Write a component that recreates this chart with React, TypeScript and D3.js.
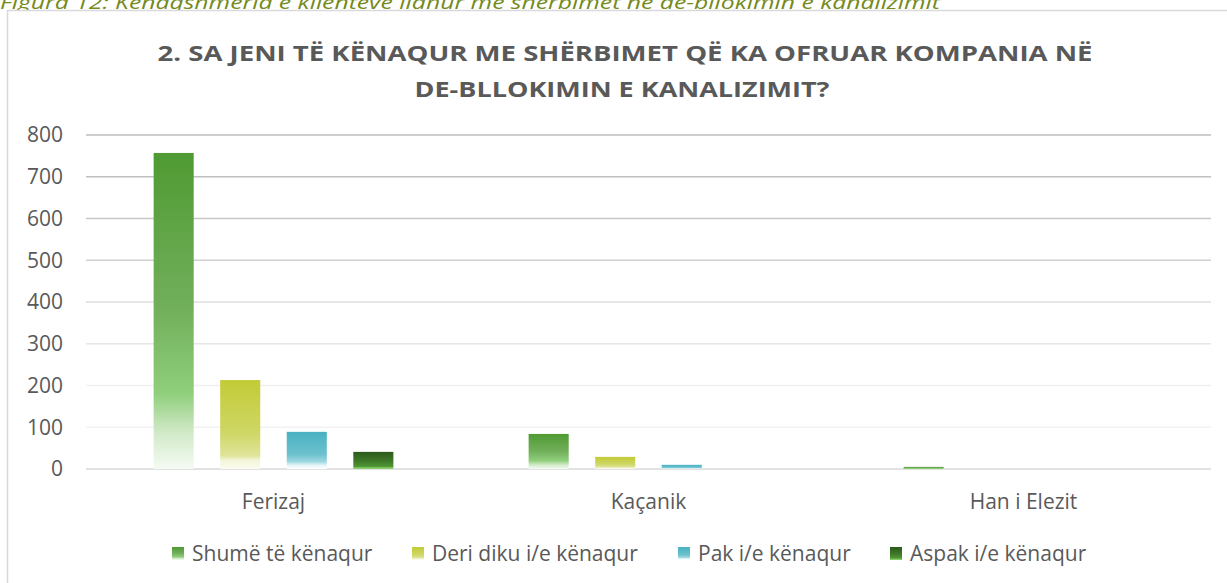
import { useEffect, useRef } from "react";
import * as d3 from "d3";

// categories (municipalities) and series (answers)
const cities = ["Ferizaj", "Kaçanik", "Han i Elezit"];
const answers = ["Shumë të kënaqur", "Deri diku i/e kënaqur", "Pak i/e kënaqur", "Aspak i/e kënaqur"];

// values per answer, in the order of cities
const shume = [757, 84, 5];
const deriDiku = [213, 29, 0];
const pak = [89, 10, 0];
const aspak = [41, 0, 0];

const yTicks = [0, 100, 200, 300, 400, 500, 600, 700, 800];

const title1 = "2. SA JENI TË KËNAQUR ME SHËRBIMET QË KA OFRUAR KOMPANIA NË";
const title2 = "DE-BLLOKIMIN E KANALIZIMIT?";
const caption = "Figura 12: Kënaqshmëria e klientëve lidhur me shërbimet në de-bllokimin e kanalizimit";

// gradient stops for each series (top -> bottom)
const gradients: [number, string][][] = [
  [[0, "#4f9a32"], [0.5, "#72b05c"], [0.76, "#8fce7b"], [0.88, "#cfe9c6"], [1, "#f6fbf4"]],
  [[0, "#c2cb36"], [0.6, "#cfd766"], [0.85, "#dfe49a"], [0.9, "#f3f5d8"], [1, "#fbfcf0"]],
  [[0, "#48b1c2"], [0.6, "#6cc1ce"], [0.8, "#9ed7e0"], [0.9, "#e6f5f7"], [1, "#ffffff"]],
  [[0, "#2c5a1c"], [0.55, "#3f7a2a"], [0.85, "#4f9633"], [0.92, "#7cc45e"], [1, "#8fd072"]],
];

const gridColors = ["#d9d9d9", "#f2f2f2", "#f0f0f0", "#e6e6e6", "#dedede", "#d2d2d2", "#c8c8c8", "#c0c0c0", "#bfbfbf"];

export default function App() {
  const svgRef = useRef<SVGSVGElement>(null);

  useEffect(() => {
    const width = 1227;
    const height = 583;
    const margin = { top: 135, right: 16, bottom: 114, left: 86 };
    const series = [shume, deriDiku, pak, aspak];
    const font = "'Open Sans', sans-serif";
    const textColor = "#595959";

    const svg = d3.select(svgRef.current).attr("width", width).attr("height", height);
    svg.selectAll("*").remove();

    const defs = svg.append("defs");
    gradients.forEach((stops, i) => {
      const g = defs
        .append("linearGradient")
        .attr("id", `grad${i}`)
        .attr("x1", 0)
        .attr("y1", 0)
        .attr("x2", 0)
        .attr("y2", 1);
      stops.forEach(([o, c]) => g.append("stop").attr("offset", o).attr("stop-color", c));
    });

    svg.append("rect").attr("width", width).attr("height", height).attr("fill", "#fff");

    // caption, partly cut at top like in the source
    svg
      .append("text")
      .attr("x", 0)
      .attr("y", 9)
      .attr("font-family", font)
      .attr("font-style", "italic")
      .attr("font-size", 19)
      .attr("fill", "#758a1a")
      .attr("textLength", 940)
      .attr("lengthAdjust", "spacingAndGlyphs")
      .text(caption);

    // chart frame
    svg
      .append("rect")
      .attr("x", 7.5)
      .attr("y", 10.5)
      .attr("width", width + 10)
      .attr("height", height + 10)
      .attr("fill", "#fff")
      .attr("stroke", "#d9d9d9")
      .attr("stroke-width", 1.5);

    // title
    svg
      .append("text")
      .attr("x", 625)
      .attr("y", 61)
      .attr("text-anchor", "middle")
      .attr("font-family", font)
      .attr("font-weight", "bold")
      .attr("font-size", 22)
      .attr("fill", textColor)
      .attr("textLength", 935)
      .attr("lengthAdjust", "spacingAndGlyphs")
      .text(title1);
    svg
      .append("text")
      .attr("x", 622)
      .attr("y", 97)
      .attr("text-anchor", "middle")
      .attr("font-family", font)
      .attr("font-weight", "bold")
      .attr("font-size", 22)
      .attr("fill", textColor)
      .attr("textLength", 415)
      .attr("lengthAdjust", "spacingAndGlyphs")
      .text(title2);

    const x0 = d3
      .scaleBand()
      .domain(cities)
      .range([margin.left, width - margin.right]);

    const x1 = d3
      .scaleBand()
      .domain(answers)
      .range([0, x0.bandwidth()])
      .paddingInner(0.398)
      .paddingOuter(1.016);

    const y = d3
      .scaleLinear()
      .domain([0, 800])
      .range([height - margin.bottom, margin.top]);

    // gridlines
    svg
      .append("g")
      .selectAll("line")
      .data(yTicks)
      .join("line")
      .attr("x1", margin.left)
      .attr("x2", width - margin.right)
      .attr("y1", (d) => y(d))
      .attr("y2", (d) => y(d))
      .attr("stroke", (d, i) => gridColors[i])
      .attr("stroke-width", 1.5);

    // y labels
    svg
      .append("g")
      .selectAll("text")
      .data(yTicks)
      .join("text")
      .attr("x", 63)
      .attr("y", (d) => y(d))
      .attr("dy", "0.35em")
      .attr("text-anchor", "end")
      .attr("font-family", font)
      .attr("font-size", 21)
      .attr("fill", textColor)
      .text((d) => d);

    // bars
    series.forEach((vals, si) => {
      svg
        .append("g")
        .selectAll("rect")
        .data(vals)
        .join("rect")
        .attr("x", (d, i) => (x0(cities[i]) || 0) + (x1(answers[si]) || 0))
        .attr("y", (d) => y(d))
        .attr("width", x1.bandwidth())
        .attr("height", (d) => y(0) - y(d))
        .attr("fill", `url(#grad${si})`);
    });

    // category labels
    svg
      .append("g")
      .selectAll("text")
      .data(cities)
      .join("text")
      .attr("x", (d) => (x0(d) || 0) + x0.bandwidth() / 2)
      .attr("y", 509)
      .attr("text-anchor", "middle")
      .attr("font-family", font)
      .attr("font-size", 21)
      .attr("fill", textColor)
      .text((d) => d);

    // legend
    const legendX = [172, 412, 678, 890];
    const lg = svg
      .append("g")
      .selectAll("g")
      .data(answers)
      .join("g")
      .attr("transform", (d, i) => `translate(${legendX[i]},554)`);
    lg.append("rect")
      .attr("x", 0)
      .attr("y", -7)
      .attr("width", 12)
      .attr("height", 13)
      .attr("fill", (d, i) => `url(#grad${i})`);
    lg.append("text")
      .attr("x", 20)
      .attr("dy", "0.35em")
      .attr("font-family", font)
      .attr("font-size", 21)
      .attr("fill", textColor)
      .text((d) => d);
  }, []);

  return (
    <div style={{ position: "absolute", left: 0, top: 0 }}>
      <svg ref={svgRef}></svg>
    </div>
  );
}
